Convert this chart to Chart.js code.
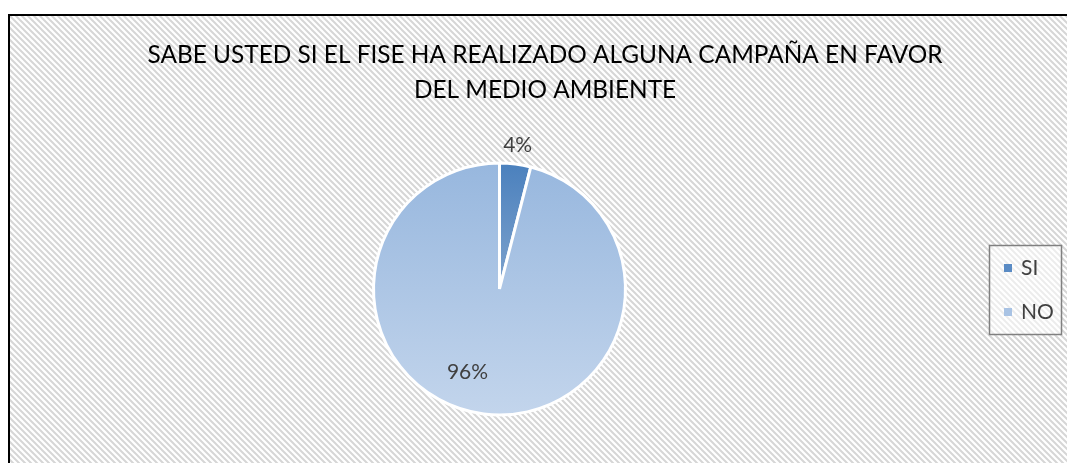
<!DOCTYPE html>
<html><head><meta charset="utf-8">
<script src="https://cdn.jsdelivr.net/npm/chart.js@4.4.0/dist/chart.umd.min.js"></script>
<style>
html,body{margin:0;padding:0;background:#fff;overflow:hidden}
#wrap{position:relative;width:1067px;height:463px}
canvas{display:block}
</style>
</head><body>
<div id="wrap"><canvas id="c" width="1067" height="463"></canvas></div>
<script>
// ---- data ----
const titleLines = ["SABE USTED SI EL FISE HA REALIZADO ALGUNA CAMPAÑA EN FAVOR", "DEL MEDIO AMBIENTE"];
const categories = ["SI", "NO"];
const values = [4, 96];
const percentLabels = ["4%", "96%"];

const FONT = "Lato, 'Open Sans', sans-serif";

function hatchPattern(ctx) {
  const p = document.createElement('canvas');
  p.width = 6; p.height = 6;
  const g = p.getContext('2d');
  g.fillStyle = '#ffffff';
  g.fillRect(0, 0, 6, 6);
  g.strokeStyle = '#d6d6d6';
  g.lineWidth = 2;
  g.beginPath();
  for (let k = -6; k <= 6; k += 6) {
    g.moveTo(k - 1, -1);
    g.lineTo(k + 7, 7);
  }
  g.stroke();
  return ctx.createPattern(p, 'repeat');
}

const sliceGradients = [
  ['#4a80bd', '#7fa3cd'],
  ['#97b7de', '#c3d5ec']
];

function sliceColor(context) {
  const chart = context.chart;
  const area = chart.chartArea;
  const i = context.dataIndex;
  if (!area) return sliceGradients[i][0];
  const cy = (area.top + area.bottom) / 2;
  const y1 = i === 0 ? cy : area.bottom;
  const g = chart.ctx.createLinearGradient(0, area.top, 0, y1);
  g.addColorStop(0, sliceGradients[i][0]);
  g.addColorStop(1, sliceGradients[i][1]);
  return g;
}

const decor = {
  id: 'decor',
  beforeDraw(chart) {
    const ctx = chart.ctx;
    ctx.save();
    ctx.fillStyle = '#ffffff';
    ctx.fillRect(0, 0, chart.width, chart.height);
    ctx.fillStyle = hatchPattern(ctx);
    ctx.fillRect(9, 15, chart.width, chart.height);
    ctx.strokeStyle = '#000000';
    ctx.lineWidth = 2;
    ctx.beginPath();
    ctx.moveTo(9, chart.height + 5);
    ctx.lineTo(9, 15);
    ctx.lineTo(chart.width + 5, 15);
    ctx.stroke();
    // title
    ctx.fillStyle = '#000000';
    ctx.font = "24.4px " + FONT;
    ctx.textAlign = 'center';
    ctx.textBaseline = 'alphabetic';
    ctx.fillText(titleLines[0], 545, 63);
    ctx.fillText(titleLines[1], 545, 98);
    ctx.restore();
  },
  afterDatasetsDraw(chart, args, opts) {
    const ctx = chart.ctx;
    const meta = chart.getDatasetMeta(0);
    ctx.save();
    ctx.fillStyle = '#404040';
    ctx.font = "21px " + FONT;
    ctx.textAlign = 'center';
    ctx.textBaseline = 'middle';
    meta.data.forEach((arc, i) => {
      const p = arc.getProps(['x', 'y', 'startAngle', 'endAngle', 'outerRadius'], true);
      const place = opts.placement[i];
      const a = (p.startAngle + p.endAngle) / 2 + place.shift * Math.PI / 180;
      const d = p.outerRadius * place.rad;
      ctx.fillText(percentLabels[i], p.x + Math.cos(a) * d, p.y + Math.sin(a) * d);
    });
    // legend
    ctx.fillStyle = 'rgba(255,255,255,0.55)';
    ctx.fillRect(989, 245, 72, 89);
    ctx.strokeStyle = '#808080';
    ctx.lineWidth = 1.5;
    ctx.strokeRect(989.5, 245.5, 72, 89);
    const markerColors = ['#5a8bc4', '#a9c3e4'];
    ctx.textAlign = 'left';
    ctx.textBaseline = 'alphabetic';
    categories.forEach((c, i) => {
      const y = 264 + i * 44;
      ctx.fillStyle = markerColors[i];
      ctx.fillRect(1004, y, 8, 8);
      ctx.fillStyle = '#404040';
      ctx.fillText(c, 1021, y + 11);
    });
    ctx.restore();
  }
};

new Chart(document.getElementById('c'), {
  type: 'pie',
  data: {
    labels: categories,
    datasets: [{
      data: values,
      backgroundColor: sliceColor,
      borderColor: '#ffffff',
      borderWidth: 3
    }]
  },
  options: {
    responsive: false,
    animation: false,
    devicePixelRatio: 1,
    layout: { padding: { left: 372, right: 440, top: 161.5, bottom: 46.5 } },
    plugins: {
      legend: { display: false },
      title: { display: false },
      tooltip: { enabled: false },
      decor: { placement: [{ rad: 1.15, shift: 0 }, { rad: 0.706, shift: 13.9 }] }
    }
  },
  plugins: [decor]
});
</script>
</body></html>
